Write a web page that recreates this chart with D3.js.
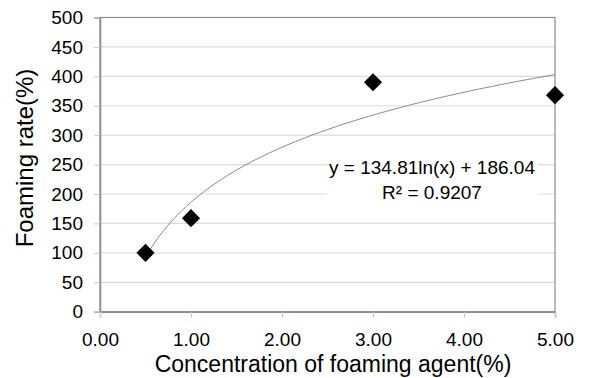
<!DOCTYPE html>
<html>
<head>
<meta charset="utf-8">
<script src="https://cdn.jsdelivr.net/npm/d3@7"></script>
<style>
  body { margin: 0; background: #fff; }
  svg { font-family: "Liberation Sans", Arial, sans-serif; }
</style>
</head>
<body>
<svg id="chart" width="589" height="378"></svg>
<script>
// Data
const concentration = [0.5, 1, 3, 5];
const foamingRate = [100, 159, 390, 368];
const xTicks = [0, 1, 2, 3, 4, 5];
const yTicks = [0, 50, 100, 150, 200, 250, 300, 350, 400, 450, 500];

// Logarithmic trendline coefficients shown on the chart
const trendA = 134.81;
const trendB = 186.04;
const trendLabel = ["y = 134.81ln(x) + 186.04", "R\u00b2 = 0.9207"];

const svg = d3.select('#chart');
const margin = { left: 100, top: 17.5, right: 34, bottom: 66.3 };
const width = 589 - margin.left - margin.right;
const height = 378 - margin.top - margin.bottom;

const x = d3.scaleLinear().domain([0, 5]).range([margin.left, margin.left + width]);
const y = d3.scaleLinear().domain([0, 500]).range([margin.top + height, margin.top]);

// Gridlines
svg.append('g')
    .selectAll('line')
    .data(yTicks.filter(d => d > 0))
    .enter()
    .append('line')
    .attr('x1', x(0)).attr('x2', x(5))
    .attr('y1', d => y(d)).attr('y2', d => y(d))
    .attr('stroke', '#dcdcdc')
    .attr('stroke-width', 1.2);

// Plot border (top/right)
svg.append('rect')
    .attr('x', x(0)).attr('y', y(500))
    .attr('width', width).attr('height', height)
    .attr('fill', 'none')
    .attr('stroke', '#8c8c8c')
    .attr('stroke-width', 1.2);

// Axes
const yAxis = svg.append('g')
    .attr('transform', `translate(${x(0)},0)`)
    .call(d3.axisLeft(y).tickValues(yTicks).tickSize(6).tickPadding(11));

const xAxis = svg.append('g')
    .attr('transform', `translate(0,${y(0)})`)
    .call(d3.axisBottom(x).tickValues(xTicks).tickSize(6).tickPadding(15)
        .tickFormat(d3.format('.2f')));

[xAxis, yAxis].forEach(g => {
    g.select('.domain').attr('stroke', '#8c8c8c').attr('stroke-width', 1.5);
    g.selectAll('.tick line').attr('stroke', '#c8c8c8');
    g.selectAll('.tick text')
        .attr('fill', '#000')
        .style('font-size', '19px')
        .style('font-family', '"Liberation Sans", Arial, sans-serif');
});
xAxis.selectAll('.tick line').filter(d => d === 0).attr('stroke', '#e0e0e0');

// Trendline
const trendX = d3.range(0.5, 5.0001, 0.05);
const line = d3.line()
    .x(d => x(d))
    .y(d => y(trendA * Math.log(d) + trendB));
svg.append('path')
    .datum(trendX)
    .attr('d', line)
    .attr('fill', 'none')
    .attr('stroke', '#8a8a8a')
    .attr('stroke-width', 1);

// Equation label with white background
svg.append('rect')
    .attr('x', 327).attr('y', 150)
    .attr('width', 211).attr('height', 56)
    .attr('fill', '#fff');

svg.append('g')
    .selectAll('text')
    .data(trendLabel)
    .enter()
    .append('text')
    .attr('x', 432)
    .attr('y', (d, i) => 173.5 + i * 25.5)
    .attr('text-anchor', 'middle')
    .style('font-size', '19px')
    .text(d => d);

// Markers
const diamond = d3.symbol().type(d3.symbolDiamond2).size(210);
svg.append('g')
    .selectAll('path')
    .data(concentration)
    .enter()
    .append('path')
    .attr('d', diamond)
    .attr('transform', (d, i) => `translate(${x(d)},${y(foamingRate[i])})`)
    .attr('fill', '#000');

// Axis titles
svg.append('text')
    .attr('x', 333)
    .attr('y', 372)
    .attr('text-anchor', 'middle')
    .style('font-size', '23px')
    .text('Concentration of foaming agent(%)');

svg.append('text')
    .attr('transform', 'translate(33,158) rotate(-90)')
    .attr('text-anchor', 'middle')
    .style('font-size', '24px')
    .text('Foaming rate(%)');
</script>
</body>
</html>
